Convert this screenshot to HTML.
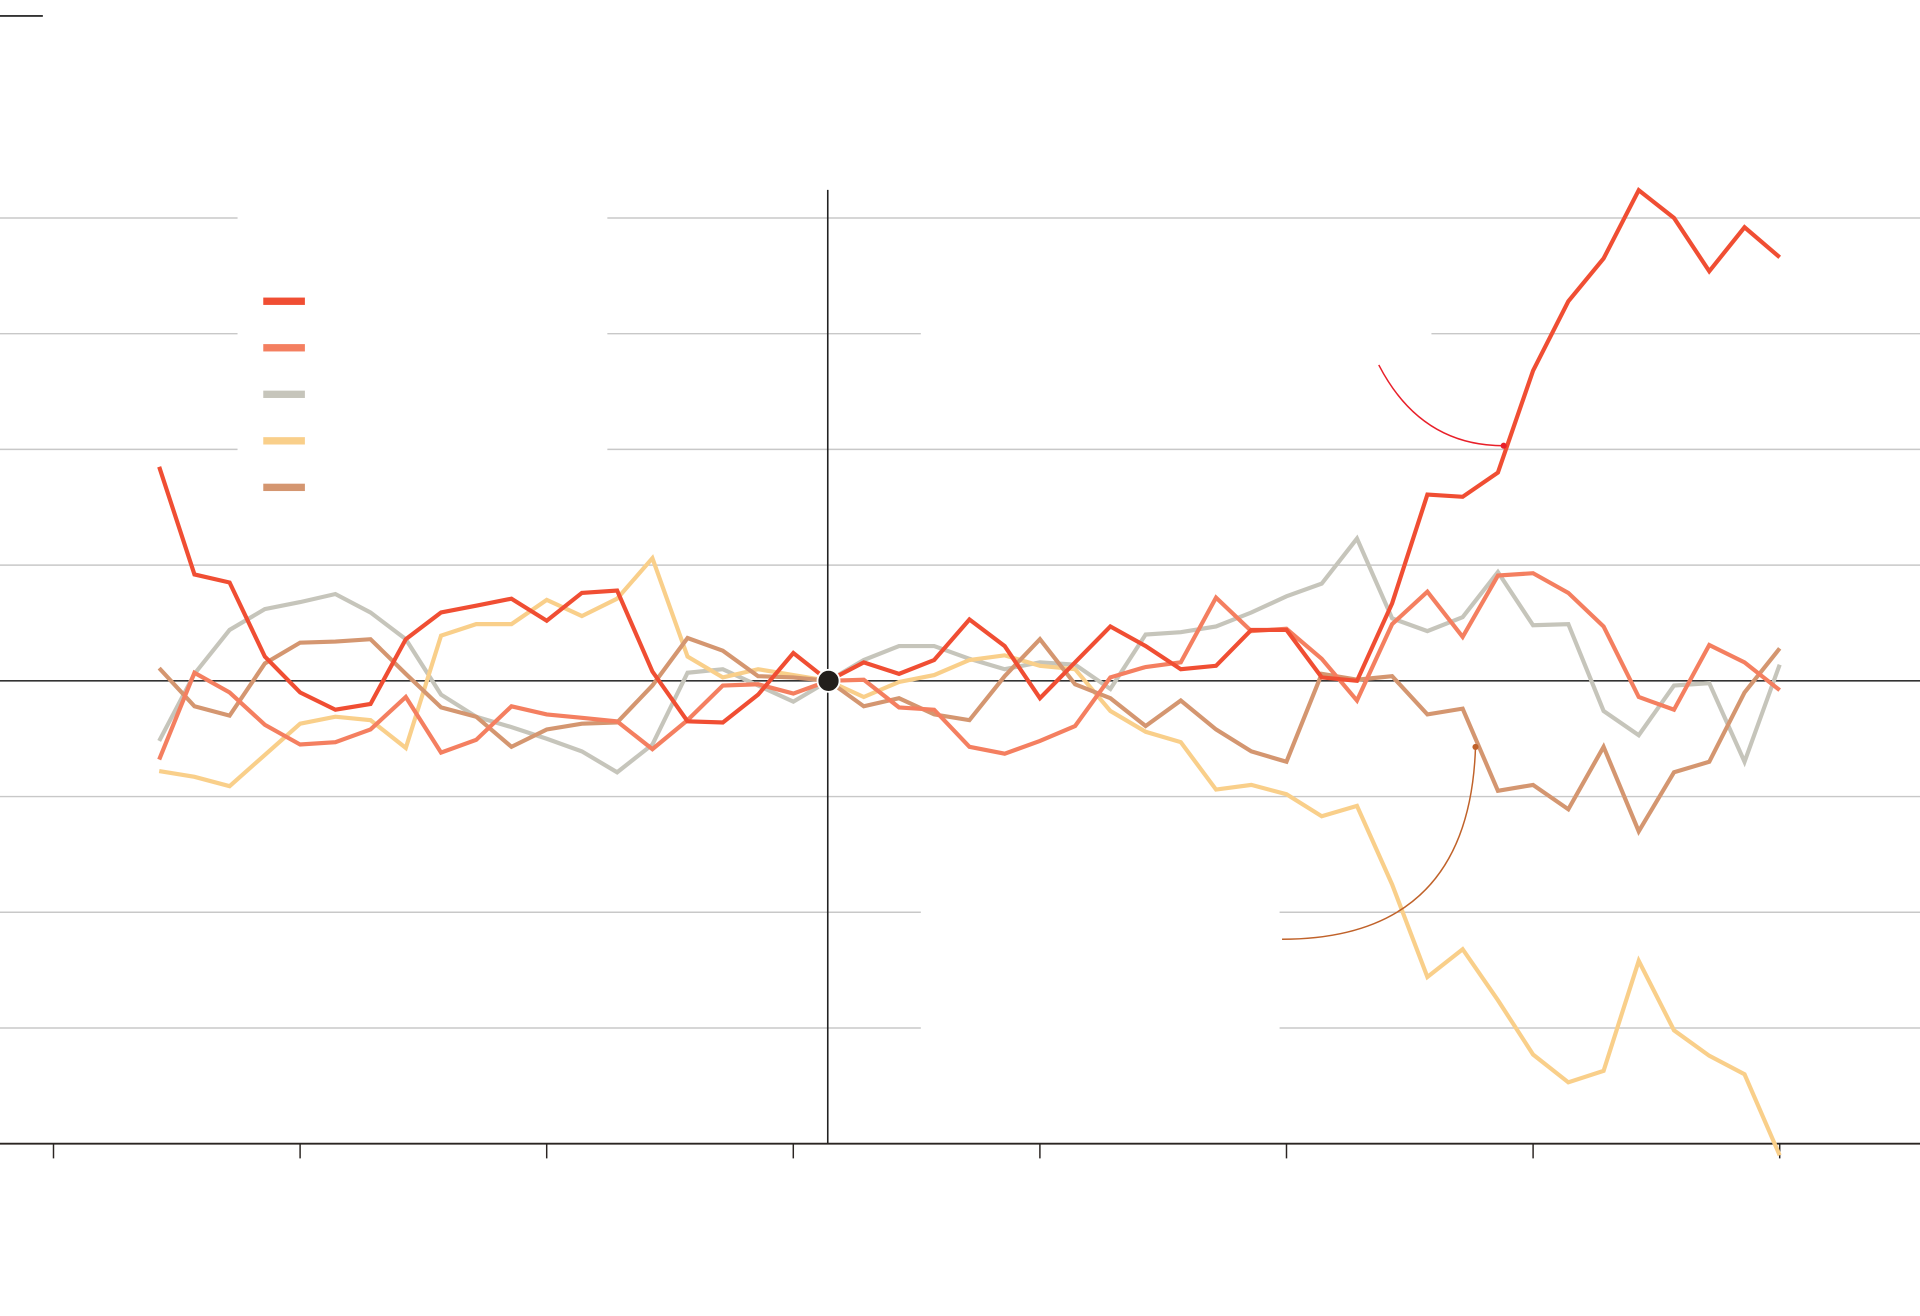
<!DOCTYPE html>
<html><head><meta charset="utf-8"><style>
html,body{margin:0;padding:0;background:#fff;}
svg{display:block;font-family:"Liberation Sans",sans-serif;}
</style></head><body>
<svg id="chart" width="1920" height="1316" viewBox="0 0 1568 1074.7" xmlns="http://www.w3.org/2000/svg">
<line x1="0" y1="13" x2="35" y2="13" stroke="#333" stroke-width="1.5"/>
<g id="grid"></g>
<g id="legend"></g>
<g id="series"></g>
<path d="M1126,298 Q1160,364 1228,364" fill="none" stroke="#e8202a" stroke-width="1.2"/>
<circle cx="1228" cy="364" r="2.5" fill="#e8202a"/>
<path d="M1047,767 Q1200,767 1205,610" fill="none" stroke="#c0622a" stroke-width="1.2"/>
<circle cx="1205" cy="610" r="2.5" fill="#c0622a"/>
</svg>
<script>
const gridValues = [40, 30, 20, 10, -10, -20, -30];
const xTicks = [-3, 4, 11, 18, 25, 32, 39, 46];
const seriesRed = [18.5,9.2,8.5,2.1,-1.0,-2.5,-2.0,3.6,5.9,6.5,7.1,5.2,7.6,7.8,0.8,-3.5,-3.6,-1.2,2.4,0,1.6,0.6,1.8,5.3,3.0,-1.5,1.6,4.7,3.0,1.0,1.3,4.4,4.4,0.3,0,6.7,16.1,15.9,18.0,26.8,32.8,36.5,42.4,40.0,35.4,39.2,36.6];
const seriesSalmon = [-6.8,0.7,-1.0,-3.8,-5.5,-5.3,-4.2,-1.4,-6.2,-5.1,-2.2,-2.9,-3.2,-3.5,-5.9,-3.4,-0.4,-0.3,-1.1,0,0.1,-2.3,-2.5,-5.7,-6.3,-5.2,-3.9,0.3,1.2,1.6,7.2,4.3,4.5,1.9,-1.7,4.9,7.7,3.8,9.1,9.3,7.6,4.7,-1.4,-2.5,3.1,1.6,-0.8];
const seriesGray = [-5.2,0.6,4.4,6.2,6.8,7.5,5.9,3.6,-1.2,-3.1,-4.0,-5.0,-6.1,-7.9,-5.5,0.7,1.0,-0.4,-1.8,0,1.8,3.0,3.0,1.9,1.0,1.6,1.4,-0.7,4.0,4.2,4.7,5.9,7.3,8.4,12.3,5.4,4.3,5.5,9.4,4.8,4.9,-2.6,-4.7,-0.4,-0.2,-7.0,1.4];
const seriesYellow = [-7.8,-8.3,-9.1,-6.4,-3.7,-3.1,-3.4,-5.8,3.9,4.9,4.9,7.0,5.6,7.1,10.6,2.1,0.3,1.0,0.5,0,-1.4,-0.1,0.5,1.8,2.2,1.3,1.0,-2.6,-4.4,-5.3,-9.4,-9.0,-9.8,-11.7,-10.8,-17.6,-25.6,-23.2,-27.6,-32.3,-34.7,-33.7,-24.2,-30.2,-32.4,-34.0,-41.0];
const seriesTan = [1.1,-2.2,-3.0,1.5,3.3,3.4,3.6,0.6,-2.3,-3.1,-5.7,-4.2,-3.7,-3.6,-0.4,3.7,2.6,0.4,0.3,0,-2.2,-1.5,-2.9,-3.4,0.4,3.6,-0.3,-1.5,-3.9,-1.7,-4.2,-6.1,-7.0,0.6,0.1,0.4,-2.9,-2.4,-9.5,-9.0,-11.1,-5.7,-13.0,-7.9,-7.0,-1.0,2.8];
const seriesColors = ["#c6c5bb","#f9cf8a","#d49670","#f47f60","#f04e33"];
const legendColors = ["#f04e33","#f47f60","#c6c5bb","#f9cf8a","#d49670"];

const NS="http://www.w3.org/2000/svg";
function xScale(i){return 130+i*28.77;}
function yScale(v){return 556-v*9.45;}
function mk(tag,attrs,parent){const e=document.createElementNS(NS,tag);for(const k in attrs)e.setAttribute(k,attrs[k]);parent.appendChild(e);return e;}

const grid=document.getElementById('grid');
const gaps={40:[[194,496]],30:[[194,496],[752,1169]],20:[[194,496]],10:[],"-10":[],"-20":[[752,1045]],"-30":[[752,1045]]};
gridValues.forEach(v=>{
  const y=yScale(v);let segs=[[0,1568]];
  (gaps[v]||[]).forEach(g=>{const n=[];segs.forEach(s=>{if(g[0]>s[0])n.push([s[0],Math.min(s[1],g[0])]);if(g[1]<s[1])n.push([Math.max(s[0],g[1]),s[1]]);});segs=n;});
  segs.forEach(s=>{
    const l=mk('line',{x1:s[0],x2:s[1],y1:y,y2:y,stroke:'#c8c8c8','stroke-width':1.2},grid);
    
    
  });
});
const zl=mk('line',{x1:0,x2:1568,y1:yScale(0),y2:yScale(0),stroke:'#333','stroke-width':1.3},grid);


const vl=mk('line',{x1:676,x2:676,y1:155,y2:934,stroke:'#222','stroke-width':1.3},grid);


const xa=mk('line',{x1:0,x2:1568,y1:934,y2:934,stroke:'#2a2522','stroke-width':1.6},grid);


xTicks.forEach(t=>{
  const tk=mk('line',{x1:xScale(t),x2:xScale(t),y1:934,y2:946,stroke:'#2a2522','stroke-width':1.2},grid);
  
  
});

const legend=document.getElementById('legend');
legendColors.forEach((c,i)=>{
  const r=mk('rect',{x:215,y:243+i*38,width:34,height:6,fill:c},legend);
  
  
});

const sg=document.getElementById('series');
[seriesGray,seriesYellow,seriesTan,seriesSalmon,seriesRed].forEach((s,k)=>{
  const pts=s.map((v,i)=>xScale(i).toFixed(1)+','+yScale(v).toFixed(1)).join(' ');
  const p=mk('polyline',{points:pts,fill:'none',stroke:seriesColors[k],'stroke-width':3.4,'stroke-linejoin':'miter'},sg);
  
  
});
const dot=mk('circle',{cx:xScale(19),cy:yScale(0),r:9,fill:'#231f1c',stroke:'#fff','stroke-width':1.5},sg);


</script>
</body></html>
